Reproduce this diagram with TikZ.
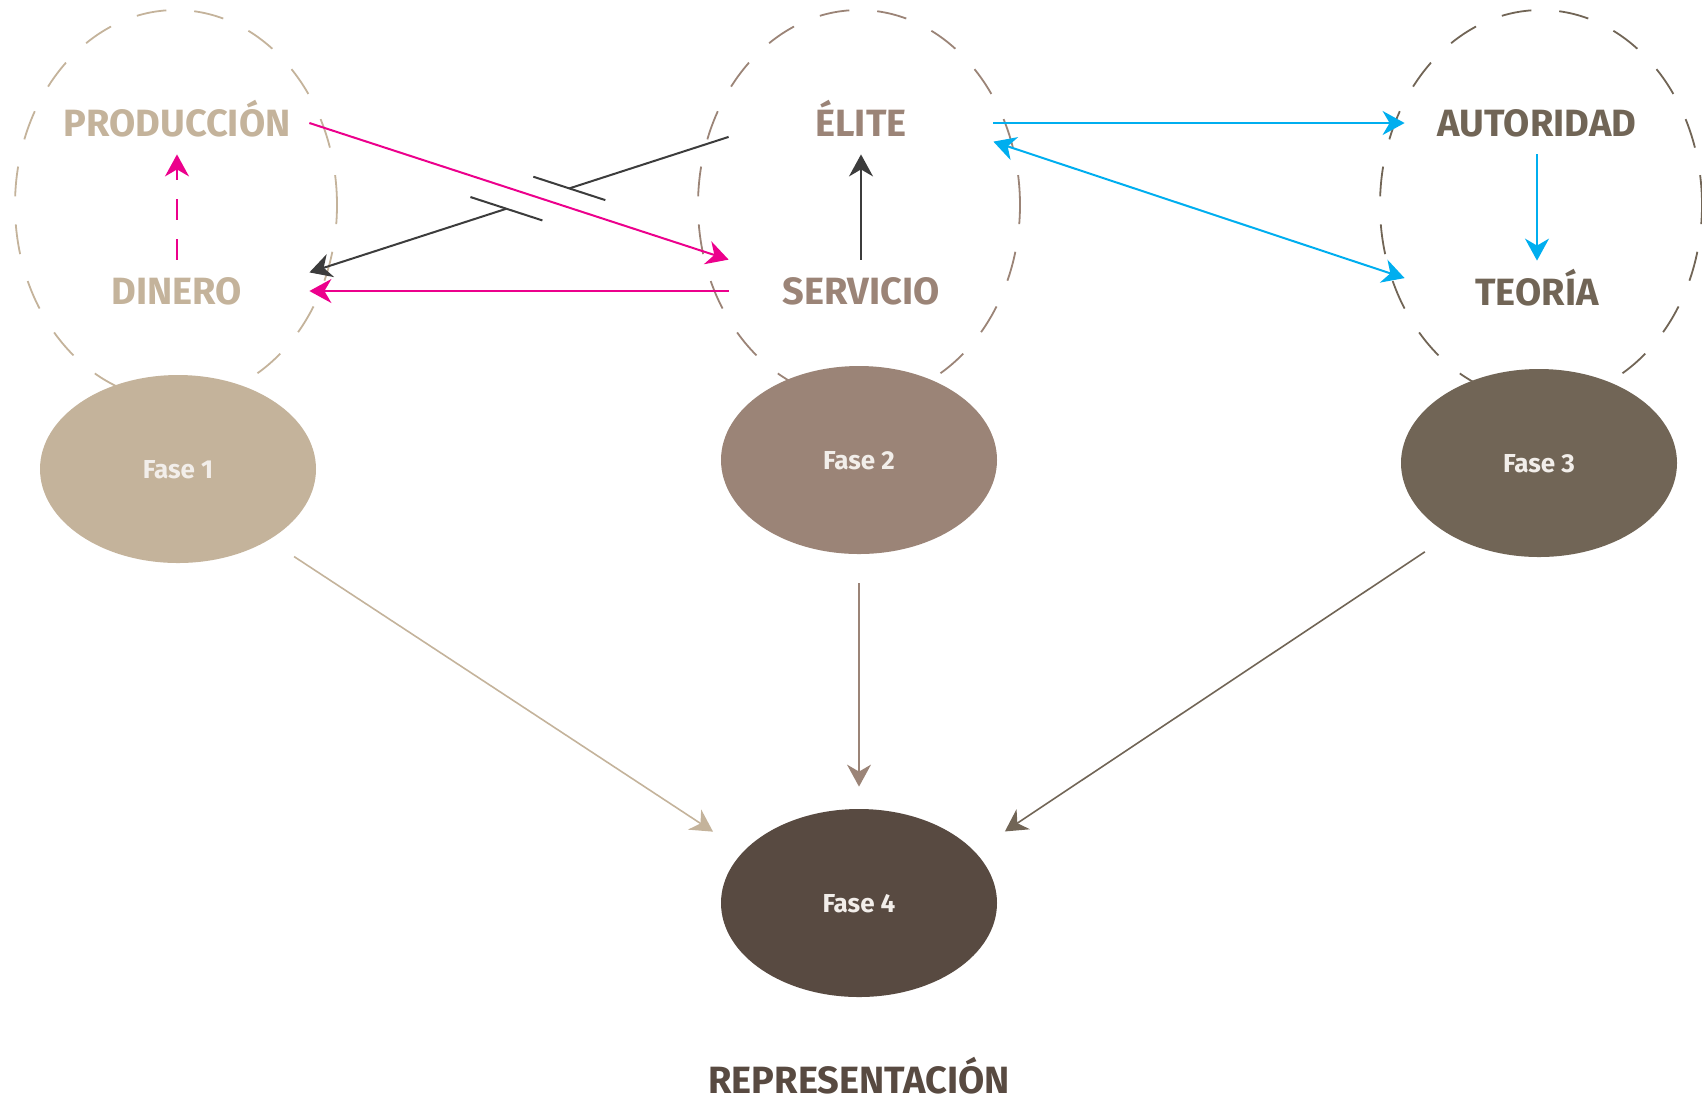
\documentclass[tikz,border=0pt]{standalone}
\usepackage{fontspec}
\setmainfont{Fira Sans}
\usepackage{xcolor}
\usepackage{tikz}
\usetikzlibrary{calc}
\usetikzlibrary{arrows.meta}
\usetikzlibrary{shapes}
\usetikzlibrary{positioning}
\usetikzlibrary{shapes.geometric}

\definecolor{sand}{HTML}{C4B39B}
\definecolor{taupe}{HTML}{9B8477}
\definecolor{umber}{HTML}{716556}
\definecolor{cocoa}{HTML}{584A41}
\definecolor{rosa}{HTML}{EC008C}
\definecolor{celeste}{HTML}{00AEEF}
\definecolor{grafito}{HTML}{3C3C3C}
\definecolor{pale}{HTML}{F2EEEA}

\tikzset{
  etiqueta/.style = {rectangle, minimum width=132pt, minimum height=31pt, inner sep=0pt, text height=13pt, text depth=0pt, font=\bfseries\fontsize{19}{22}\selectfont},
  fase/.style = {ellipse, minimum width=138pt, minimum height=94pt, inner sep=0pt, text=pale, text height=9pt, text depth=0pt, font=\bfseries\fontsize{13}{15}\selectfont},
  grupo/.style = {ellipse, minimum width=161pt, minimum height=195pt, line width=0.9pt, dash pattern=on 15pt off 14pt},
  flecha/.style = {-{Stealth[length=11pt, width=12pt, inset=3.5pt]}, line width=1pt},
  doble/.style = {{Stealth[length=11pt, width=12pt, inset=3.5pt]}-{Stealth[length=11pt, width=12pt, inset=3.5pt]}, line width=1pt},
  enlace/.style = {-{Stealth[length=11pt, width=12pt, inset=3.5pt]}, line width=0.8pt}
}

\begin{document}
\begin{tikzpicture}[x=0.5pt, y=-0.5pt]
\useasboundingbox (0, 0) rectangle (1702, 1100);
\node [grupo, draw=sand] (G1) at (176, 205) {};
\node [grupo, draw=taupe] (G2) at (859, 205) {};
\node [grupo, draw=umber] (G3) at (1541, 205) {};
\node [fase, fill=sand] (F1) at (178, 469) {Fase 1};
\node [fase, fill=taupe] (F2) at (859, 460) {Fase 2};
\node [fase, fill=umber] (F3) at (1539, 463) {Fase 3};
\node [fase, fill=cocoa] (F4) at (859, 903) {Fase 4};
\node [etiqueta, text=sand] (PRO) at (177, 123) {PRODUCCIÓN};
\node [etiqueta, text=sand] (DIN) at (177, 291) {DINERO};
\node [etiqueta, text=taupe] (ELI) at (861, 123) {ÉLITE};
\node [etiqueta, text=taupe] (SER) at (861, 291) {SERVICIO};
\node [etiqueta, text=umber] (AUT) at (1537, 123) {AUTORIDAD};
\node [etiqueta, text=umber] (TEO) at (1537, 292) {TEORÍA};
\node [etiqueta, text=cocoa] (REP) at (859, 1080) {REPRESENTACIÓN};
\coordinate (E1) at (ELI.-174);
\coordinate (D1) at (DIN.8);
\draw [flecha, draw=rosa, dash pattern=on 10.5pt off 9.5pt] (DIN.north) to (PRO.south);
\draw [flecha, draw=rosa] (PRO.east) to (SER.north west);
\draw [flecha, draw=rosa] (SER.west) to (DIN.east);
\draw [line width=1pt, draw=grafito] (E1) to ($(E1)!0.38!(D1)$);
\draw [flecha, draw=grafito] ($(E1)!0.53!(D1)$) to (D1);
\draw [line width=1pt, draw=grafito] ($(E1)!0.38!(D1)$) +(-36, -11.7) -- +(36, 11.7);
\draw [line width=1pt, draw=grafito] ($(E1)!0.53!(D1)$) +(-36, -11.7) -- +(36, 11.7);
\draw [flecha, draw=grafito] (SER.north) to (ELI.south);
\draw [flecha, draw=celeste] (ELI.east) to (AUT.west);
\draw [doble, draw=celeste] (ELI.-8) to (TEO.174);
\draw [flecha, draw=celeste] (AUT.south) to (TEO.north);
\draw [enlace, draw=sand, shorten <=15pt, shorten >=18pt] (F1.-38) to (F4.156);
\draw [enlace, draw=taupe, shorten <=14.5pt, shorten >=11pt] (F2.south) to (F4.north);
\draw [enlace, draw=umber, shorten <=15pt, shorten >=18pt] (F3.219) to (F4.24);
\end{tikzpicture}
\end{document}
